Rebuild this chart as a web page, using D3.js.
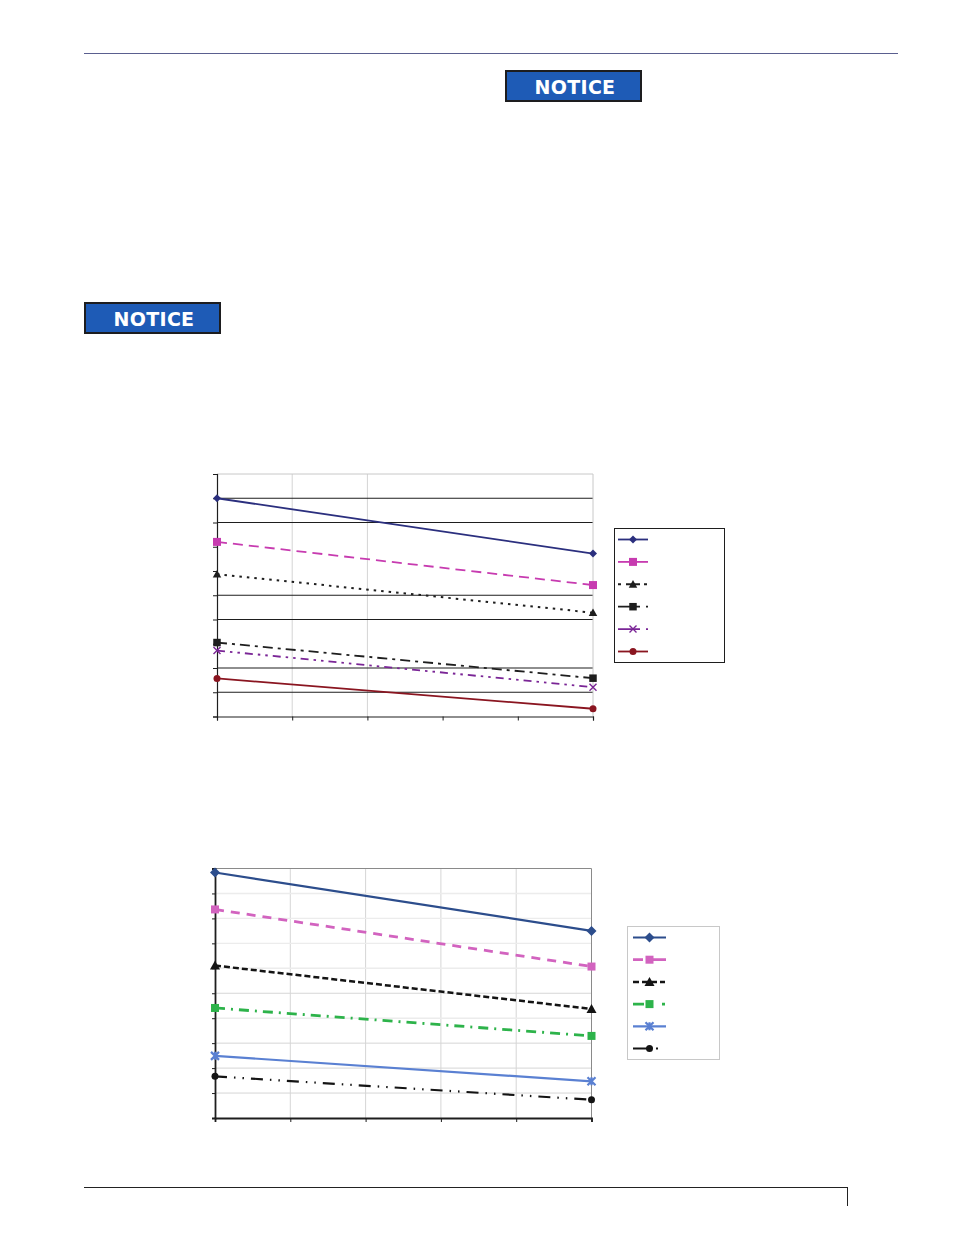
<!DOCTYPE html>
<html>
<head>
<meta charset="utf-8">
<script src="https://cdn.jsdelivr.net/npm/d3@7"></script>
<style>
  html, body { margin: 0; padding: 0; background: #fff; }
  svg { display: block; }
</style>
</head>
<body>
<svg id="page" width="954" height="1235"></svg>
<script>
// ---- data ----
const xPoints = [0, 5];                 // two measurement points per series
const xTicks = [0, 1, 2, 3, 4, 5];
const yTicks = [0, 1, 2, 3, 4, 5, 6, 7, 8, 9, 10];

// upper chart
const topSeriesNames = ["A1", "A2", "A3", "A4", "A5", "A6"];
const topA1 = [9.0, 6.72];
const topA2 = [7.2, 5.42];
const topA3 = [5.87, 4.28];
const topA4 = [3.05, 1.58];
const topA5 = [2.72, 1.21];
const topA6 = [1.57, 0.32];
const topGridValues = [1, 2, 4, 5, 8, 9];
const topVGridValues = [1, 2];

// lower chart
const botSeriesNames = ["B1", "B2", "B3", "B4", "B5", "B6"];
const botB1 = [9.84, 7.5];
const botB2 = [8.36, 6.07];
const botB3 = [6.11, 4.37];
const botB4 = [4.41, 3.29];
const botB5 = [2.49, 1.47];
const botB6 = [1.67, 0.73];
const botGridDark = [1, 2, 3, 5];
const botGridLight = [4, 6, 7, 8, 9];
const botVGridValues = [1, 2, 3, 4];

const badgeText = "NOTICE";

// ---- page furniture ----
const svg = d3.select("#page");

svg.append("line").attr("x1", 84).attr("x2", 898).attr("y1", 53.5).attr("y2", 53.5)
  .attr("stroke", "#5a5f8f").attr("stroke-width", 1);

svg.append("line").attr("x1", 84).attr("x2", 847.5).attr("y1", 1187.5).attr("y2", 1187.5)
  .attr("stroke", "#222").attr("stroke-width", 1);
svg.append("line").attr("x1", 847.5).attr("x2", 847.5).attr("y1", 1187).attr("y2", 1206)
  .attr("stroke", "#222").attr("stroke-width", 1);

function badge(x, y) {
  const g = svg.append("g").attr("transform", `translate(${x},${y})`);
  g.append("rect").attr("x", 1).attr("y", 1).attr("width", 135).attr("height", 30)
    .attr("fill", "#1e5bb6").attr("stroke", "#1d1d1f").attr("stroke-width", 2);
  g.append("text").attr("x", 70).attr("y", 23.5).attr("text-anchor", "middle")
    .attr("font-family", "'DejaVu Sans', sans-serif").attr("font-weight", "bold")
    .attr("font-size", 19).attr("letter-spacing", 0.3).attr("fill", "#fff").text(badgeText);
}
badge(505, 70);
badge(84, 302);

// ---- markers ----
function marker(g, type, cx, cy, color, size) {
  const s = size, h = s / 2;
  if (type === "diamond") {
    g.append("path").attr("d", `M${cx},${cy - h}L${cx + h},${cy}L${cx},${cy + h}L${cx - h},${cy}Z`)
      .attr("fill", color);
  } else if (type === "square") {
    g.append("rect").attr("x", cx - h).attr("y", cy - h).attr("width", s).attr("height", s)
      .attr("fill", color);
  } else if (type === "triangle") {
    g.append("path").attr("d", `M${cx},${cy - h}L${cx + h},${cy + h * 0.8}L${cx - h},${cy + h * 0.8}Z`)
      .attr("fill", color);
  } else if (type === "circle") {
    g.append("circle").attr("cx", cx).attr("cy", cy).attr("r", h).attr("fill", color);
  } else if (type === "x") {
    g.append("path").attr("d", `M${cx - h},${cy - h}L${cx + h},${cy + h}M${cx - h},${cy + h}L${cx + h},${cy - h}`)
      .attr("stroke", color).attr("stroke-width", 1.4).attr("fill", "none");
  } else if (type === "star") {
    g.append("path").attr("d", `M${cx - h},${cy - h}L${cx + h},${cy + h}M${cx - h},${cy + h}L${cx + h},${cy - h}M${cx},${cy - h}L${cx},${cy + h}`)
      .attr("stroke", color).attr("stroke-width", 2.2).attr("fill", "none");
  }
}

// ---- chart builder ----
function drawChart(cfg) {
  const x = d3.scaleLinear().domain([0, 5]).range([cfg.left, cfg.right]);
  const y = d3.scaleLinear().domain([0, 10]).range([cfg.bottom, cfg.top]);
  const g = svg.append("g");

  // vertical gridlines
  g.selectAll(".vg").data(cfg.vGrid).join("line")
    .attr("x1", d => x(d)).attr("x2", d => x(d)).attr("y1", cfg.top).attr("y2", cfg.bottom)
    .attr("stroke", cfg.vGridColor).attr("stroke-width", 1);

  // horizontal gridlines
  cfg.hGrid.forEach(set => {
    g.selectAll(null).data(set.values).join("line")
      .attr("x1", cfg.left).attr("x2", cfg.right).attr("y1", d => y(d)).attr("y2", d => y(d))
      .attr("stroke", set.color).attr("stroke-width", set.width);
  });

  // frame top / right
  g.append("line").attr("x1", cfg.left).attr("x2", cfg.right).attr("y1", cfg.top).attr("y2", cfg.top)
    .attr("stroke", cfg.frameColor).attr("stroke-width", 1);
  g.append("line").attr("x1", cfg.right).attr("x2", cfg.right).attr("y1", cfg.top).attr("y2", cfg.bottom)
    .attr("stroke", cfg.frameColor).attr("stroke-width", cfg.rightWidth);

  // axes
  const yAxis = d3.axisLeft(y).tickValues(yTicks).tickSize(cfg.yTickSize).tickFormat("");
  const xAxis = d3.axisBottom(x).tickValues(xTicks).tickSize(cfg.xTickSize).tickFormat("");
  const ya = g.append("g").attr("transform", `translate(${cfg.left},0)`).call(yAxis);
  const xa = g.append("g").attr("transform", `translate(0,${cfg.bottom})`).call(xAxis);
  [ya, xa].forEach(a => {
    a.select(".domain").attr("stroke", cfg.axisColor).attr("stroke-width", cfg.axisWidth);
    a.selectAll(".tick line").attr("stroke", cfg.axisColor).attr("stroke-width", 1);
  });

  // series
  const line = d3.line().x((d, i) => x(xPoints[i])).y(d => y(d));
  cfg.series.forEach(s => {
    g.append("path").datum(s.values).attr("d", line).attr("fill", "none")
      .attr("stroke", s.color).attr("stroke-width", s.width)
      .attr("stroke-dasharray", s.dash || null);
    s.values.forEach((v, i) => marker(g, s.marker, x(xPoints[i]), y(v), s.color, s.msize));
  });

  // legend
  const L = cfg.legend;
  g.append("rect").attr("x", L.x + 0.5).attr("y", L.y + 0.5).attr("width", L.w).attr("height", L.h)
    .attr("fill", "#fff").attr("stroke", L.border).attr("stroke-width", L.borderWidth);
  cfg.series.forEach((s, i) => {
    const ly = L.firstY + i * L.step;
    const dash = ("legendDash" in s) ? s.legendDash : (s.dash || null);
    g.append("line").attr("x1", L.lineX1).attr("x2", L.lineX2).attr("y1", ly).attr("y2", ly)
      .attr("stroke", s.color).attr("stroke-width", s.width)
      .attr("stroke-dasharray", dash);
    marker(g, s.marker, (L.lineX1 + L.lineX2) / 2, ly, s.color, s.msize);
  });
}

drawChart({
  left: 217, right: 593, top: 474, bottom: 716.5,
  vGrid: topVGridValues, vGridColor: "#d4d4d4",
  hGrid: [{ values: topGridValues, color: "#1e1e1e", width: 1.2 }],
  frameColor: "#c8c8c8", rightWidth: 1,
  axisColor: "#1e1e1e", axisWidth: 1.2, yTickSize: 4, xTickSize: 4,
  series: [
    { name: topSeriesNames[0], values: topA1, color: "#2b2f7e", width: 1.8, marker: "diamond", msize: 8 },
    { name: topSeriesNames[1], values: topA2, color: "#c73bb0", width: 1.8, dash: "10,6", marker: "square", msize: 8, legendDash: null },
    { name: topSeriesNames[2], values: topA3, color: "#1e1e1e", width: 2, dash: "2.5,5", marker: "triangle", msize: 8.5, legendDash: "3,5,14,4,3,100" },
    { name: topSeriesNames[3], values: topA4, color: "#1e1e1e", width: 1.8, dash: "10,5,3,5", marker: "square", msize: 7.5, legendDash: "22,6,2,100" },
    { name: topSeriesNames[4], values: topA5, color: "#7a2596", width: 1.8, dash: "8,5,2.5,5,2.5,5", marker: "x", msize: 7, legendDash: "22,6,2,100" },
    { name: topSeriesNames[5], values: topA6, color: "#8a1520", width: 1.8, marker: "circle", msize: 7 }
  ],
  legend: { x: 614, y: 528, w: 110, h: 134, border: "#1e1e1e", borderWidth: 1,
            firstY: 539.5, step: 22.4, lineX1: 618, lineX2: 648 }
});

drawChart({
  left: 215, right: 591.5, top: 868.5, bottom: 1118,
  vGrid: botVGridValues, vGridColor: "#d6d6d6",
  hGrid: [{ values: botGridDark, color: "#d6d6d6", width: 1 },
          { values: botGridLight, color: "#ececec", width: 1.4 }],
  frameColor: "#8a8a8a", rightWidth: 1,
  axisColor: "#1e1e1e", axisWidth: 1.8, yTickSize: 3, xTickSize: 4,
  series: [
    { name: botSeriesNames[0], values: botB1, color: "#2c4d8c", width: 2.2, marker: "diamond", msize: 10 },
    { name: botSeriesNames[1], values: botB2, color: "#d263bf", width: 2.8, dash: "9,7", marker: "square", msize: 8, legendDash: "10,5,30,100" },
    { name: botSeriesNames[2], values: botB3, color: "#141414", width: 2.5, dash: "6,3", marker: "triangle", msize: 10, legendDash: "6,3,15,3,5,100" },
    { name: botSeriesNames[3], values: botB4, color: "#2db34a", width: 2.8, dash: "10,6,2,6", marker: "square", msize: 8, legendDash: "11,18,3,100" },
    { name: botSeriesNames[4], values: botB5, color: "#5a80d2", width: 2.2, marker: "star", msize: 8 },
    { name: botSeriesNames[5], values: botB6, color: "#141414", width: 2.2, dash: "12,7,1.5,7,1.5,7", marker: "circle", msize: 7, legendDash: "17,6,2,100" }
  ],
  legend: { x: 627, y: 926, w: 92, h: 133, border: "#c8c8c8", borderWidth: 1,
            firstY: 937.5, step: 22.2, lineX1: 633, lineX2: 666 }
});
</script>
</body>
</html>
